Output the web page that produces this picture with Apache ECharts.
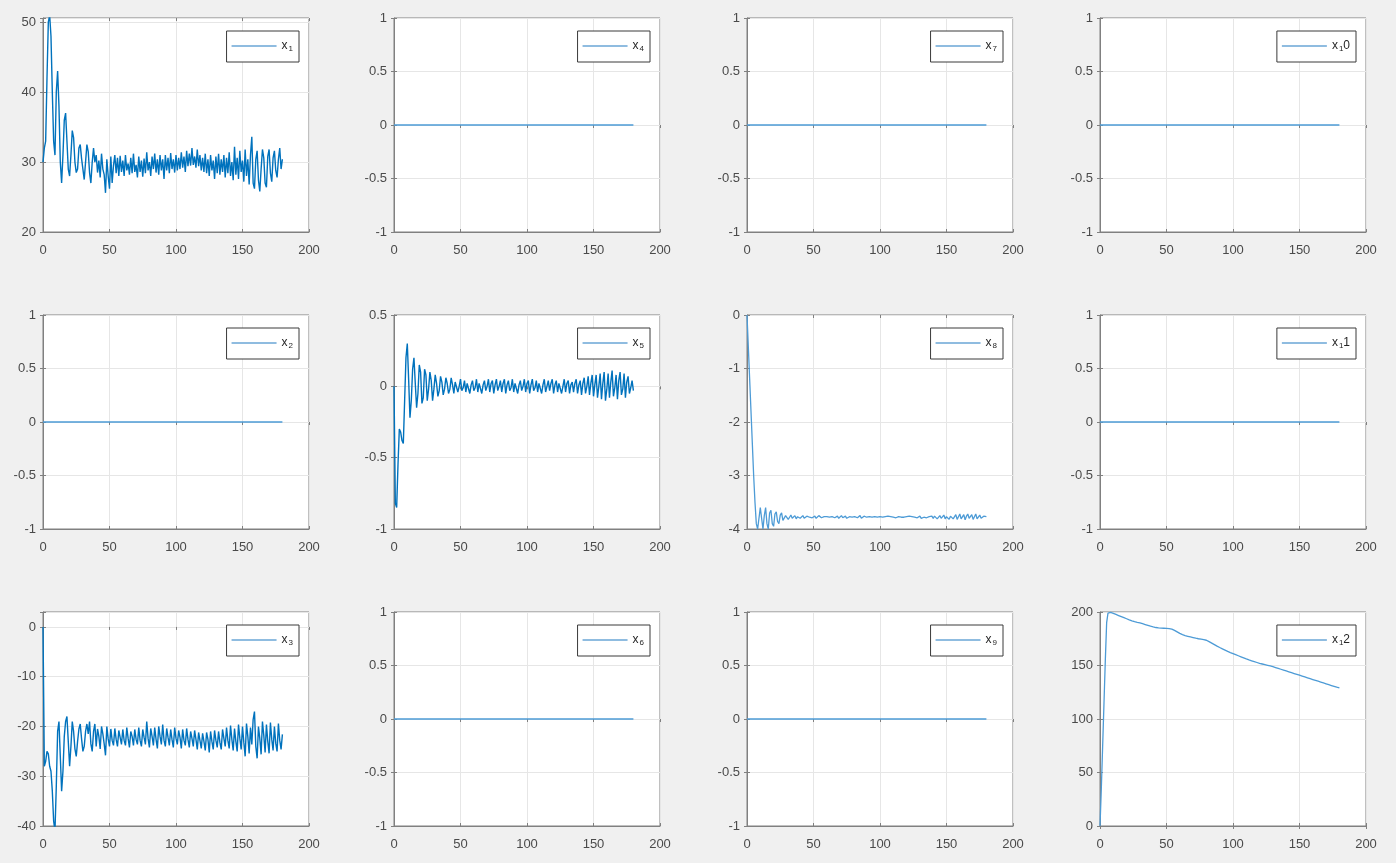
<!DOCTYPE html>
<html>
<head>
<meta charset="utf-8">
<script src="https://cdn.jsdelivr.net/npm/echarts@6/dist/echarts.min.js"></script>
<style>
html,body{margin:0;padding:0;background:#f0f0f0;}
#c{width:1396px;height:863px;}
</style>
</head>
<body>
<div id="c"></div>
<script>
// ---------- data ----------
// sample times (s) for the simulated trajectories
const tSim = Array.from({length: 181}, (_, i) => i);
// flat trajectories are constant zero from t=0 to t=180
const tFlat = [0, 180];
const zeroFlat = [0, 0];

const x1 = [
30,32,33,42,50,51,48,40,33,31,
40,43,38,30,27,31,36,37,33,29,
28,31,34.5,33.5,30,28.5,29,32,32.5,30.5,
29,27.5,30,32.5,31.5,28.5,27,30,32,30,
31,28.5,30.2,27.8,31.2,29.0,28.2,25.6,30.4,28.0,
26.2,30.8,27.0,29.5,31.0,28.4,30.6,28.0,30.9,28.6,
30.2,28.0,31.0,28.8,29.8,28.2,30.6,28.4,31.2,28.6,
29.6,27.8,30.8,28.6,30.2,27.9,30.5,28.4,31.4,28.8,
30.0,28.0,30.8,29.0,31.2,28.5,30.4,28.2,31.0,28.8,
30.4,27.6,31.0,28.8,30.6,28.4,31.3,29.0,30.4,28.5,
31.0,28.8,30.6,29.0,31.4,29.2,30.8,28.6,31.6,29.4,
31.2,29.5,32.0,29.6,30.8,29.2,31.8,29.4,31.0,28.8,
30.6,28.6,31.2,28.4,30.4,28.0,31.0,28.8,30.2,27.6,
30.8,28.4,31.2,28.2,30.4,28.6,31.0,27.8,30.6,28.4,
31.4,28.0,30.0,27.4,32.2,28.2,30.6,27.6,31.6,28.6,
30.2,27.2,31.8,28.0,30.4,26.8,31.0,33.6,27.0,26.2,
30.4,31.6,27.4,25.8,29.0,31.8,30.6,27.0,26.4,30.8,
31.8,28.4,27.2,30.6,31.6,28.8,27.8,30.4,32.0,29.0,
30.4
];

const x3 = [
0,-28,-27,-25,-25.5,-28,-29,-33,-39,-41,
-32,-21,-19,-26,-33,-29,-22,-19,-18,-23,
-28,-24,-19,-21,-24.5,-26,-23,-20.5,-19.5,-22.5,
-25,-24,-21,-19.5,-21.5,-19,-23.5,-25,-21,-19.5,
-24,-20.5,-22,-24.5,-20,-21.5,-23.5,-25.8,-20,-22.5,
-24,-20.5,-22.8,-23.8,-20.4,-22.6,-24,-20.8,-22.2,-23.6,
-20.6,-22.8,-23.8,-20.2,-22.4,-24.2,-21.0,-22.0,-23.8,-20.6,
-22.6,-23.6,-20.2,-22.8,-24.0,-20.6,-22.2,-23.6,-19.0,-22.4,
-24.2,-20.4,-22.0,-23.8,-20.2,-22.6,-24.4,-20.0,-22.0,-23.6,
-19.6,-22.8,-24.0,-20.4,-22.2,-23.8,-20.6,-22.6,-24.2,-20.2,
-22.4,-23.6,-20.8,-22.2,-24.4,-20.6,-22.8,-23.8,-20.4,-22.6,
-24.2,-21.0,-22.4,-24.0,-20.8,-22.6,-24.6,-21.2,-22.8,-24.4,
-21.4,-23.0,-24.8,-21.2,-22.6,-25.2,-21.0,-23.0,-24.6,-20.8,
-22.8,-24.2,-21.0,-23.2,-24.6,-20.6,-22.4,-24.0,-20.2,-22.8,
-24.4,-19.8,-22.6,-24.8,-20.4,-23.0,-25.0,-19.6,-22.4,-24.6,
-20.0,-23.2,-26.0,-19.4,-22.0,-25.4,-20.2,-23.6,-18.6,-17.0,
-24.0,-26.4,-20.0,-22.4,-25.6,-19.0,-21.8,-25.2,-19.6,-23.0,
-25.4,-19.2,-22.6,-24.8,-20.0,-23.4,-25.0,-19.4,-22.8,-24.6,
-21.6
];

const x5 = [
0,-0.82,-0.85,-0.55,-0.30,-0.32,-0.38,-0.40,-0.10,0.20,
0.30,0.05,-0.22,-0.10,0.12,0.20,0.02,-0.15,-0.05,0.15,
0.10,-0.12,-0.08,0.12,0.08,-0.10,-0.02,0.10,0.04,-0.10,
-0.02,0.08,0.02,-0.07,-0.03,0.07,0.03,-0.06,-0.02,0.06,
0.02,-0.05,-0.02,0.06,0.01,-0.05,0.03,0.04,-0.04,0.0,
0.05,-0.03,-0.01,0.04,-0.04,0.02,0.03,-0.05,0.01,0.04,
-0.03,-0.01,0.05,-0.04,0.02,0.03,-0.05,0.01,0.04,-0.03,
0.0,0.05,-0.04,0.02,0.04,-0.05,0.01,0.05,-0.03,0.0,
0.04,-0.04,0.02,0.05,-0.05,0.01,0.04,-0.03,-0.01,0.05,
-0.04,0.02,0.03,-0.05,0.01,0.04,-0.03,0.0,0.05,-0.04,
0.02,0.04,-0.05,0.01,0.05,-0.03,-0.01,0.04,-0.04,0.02,
0.03,-0.05,0.01,0.05,-0.04,0.0,0.04,-0.03,0.02,0.05,
-0.05,0.01,0.04,-0.04,0.02,0.03,-0.05,0.0,0.05,-0.04,
0.02,0.04,-0.05,0.01,0.03,-0.04,0.02,0.05,-0.05,0.01,
0.04,-0.06,0.02,0.06,-0.05,0.0,0.07,-0.06,0.02,0.08,
-0.07,0.01,0.08,-0.08,0.0,0.09,-0.09,0.02,0.10,-0.10,
-0.02,0.09,-0.08,0.03,0.11,-0.07,-0.01,0.08,-0.09,0.04,
0.10,-0.06,-0.02,0.09,-0.08,0.03,0.07,-0.05,-0.01,0.04,
-0.03
];

const x8 = [
0,-0.6,-1.2,-1.8,-2.4,-3.0,-3.5,-3.9,-4.0,-4.0,
-3.6,-3.8,-4.0,-3.75,-3.6,-3.9,-4.0,-3.7,-3.65,-3.9,
-3.95,-3.72,-3.68,-3.86,-3.9,-3.74,-3.7,-3.84,-3.85,-3.75,
-3.76,-3.82,-3.78,-3.74,-3.80,-3.79,-3.75,-3.81,-3.77,-3.76,
-3.80,-3.78,-3.75,-3.80,-3.77,-3.76,-3.79,-3.78,-3.75,-3.79,
-3.77,-3.76,-3.80,-3.77,-3.75,-3.78,-3.79,-3.76,-3.77,-3.78,
-3.77,-3.77,-3.78,-3.78,-3.77,-3.76,-3.79,-3.78,-3.76,-3.80,
-3.77,-3.75,-3.79,-3.78,-3.76,-3.80,-3.77,-3.77,-3.78,-3.78,
-3.77,-3.77,-3.78,-3.79,-3.76,-3.75,-3.80,-3.77,-3.76,-3.79,
-3.78,-3.77,-3.77,-3.78,-3.78,-3.77,-3.77,-3.78,-3.78,-3.77,
-3.77,-3.78,-3.78,-3.77,-3.77,-3.78,-3.76,-3.79,-3.77,-3.77,
-3.78,-3.76,-3.79,-3.78,-3.77,-3.77,-3.78,-3.77,-3.78,-3.77,
-3.77,-3.78,-3.76,-3.79,-3.77,-3.77,-3.78,-3.76,-3.79,-3.77,
-3.76,-3.80,-3.77,-3.78,-3.76,-3.79,-3.77,-3.77,-3.78,-3.76,
-3.80,-3.76,-3.74,-3.81,-3.78,-3.75,-3.80,-3.77,-3.74,-3.81,
-3.77,-3.74,-3.82,-3.76,-3.73,-3.81,-3.78,-3.73,-3.82,-3.77,
-3.72,-3.81,-3.79,-3.73,-3.83,-3.76,-3.72,-3.80,-3.79,-3.73,
-3.82,-3.77,-3.72,-3.81,-3.78,-3.74,-3.80,-3.77,-3.76,-3.79,
-3.77
];

const x12 = [
0,35,75,115,155,190,199,200,199.6,199.2,
198.7,198.2,197.7,197.2,196.7,196.2,195.7,195.2,194.7,194.2,
193.7,193.2,192.7,192.2,191.8,191.4,191.0,190.7,190.4,190.2,
189.9,189.5,189.1,188.7,188.3,187.9,187.5,187.1,186.7,186.3,
186.0,185.7,185.5,185.3,185.1,185.0,184.9,184.8,184.8,184.7,
184.7,184.6,184.5,184.3,184.0,183.4,182.8,182.1,181.4,180.7,
180.0,179.4,178.8,178.3,177.9,177.6,177.3,177.0,176.7,176.4,
176.1,175.8,175.5,175.2,175.0,174.8,174.6,174.4,174.2,174.0,
173.6,173.0,172.3,171.6,170.9,170.2,169.5,168.8,168.1,167.4,
166.8,166.2,165.6,165.0,164.4,163.8,163.2,162.6,162.1,161.6,
161.1,160.6,160.1,159.6,159.1,158.6,158.1,157.6,157.1,156.6,
156.1,155.6,155.2,154.8,154.4,154.0,153.6,153.2,152.8,152.4,
152.0,151.7,151.4,151.1,150.8,150.5,150.2,149.9,149.6,149.3,
148.9,148.5,148.1,147.7,147.3,146.9,146.5,146.1,145.7,145.3,
144.9,144.5,144.1,143.7,143.3,142.9,142.5,142.1,141.7,141.3,
140.9,140.5,140.1,139.7,139.3,138.9,138.5,138.1,137.7,137.3,
136.9,136.5,136.1,135.7,135.3,134.9,134.5,134.1,133.7,133.3,
132.9,132.5,132.1,131.7,131.3,130.9,130.5,130.1,129.7,129.4,
129.0
];

// legend labels (rich text: x with subscript, as in the figure)
const legendLabels = {
  x1:'{n|x}{s|1}', x2:'{n|x}{s|2}', x3:'{n|x}{s|3}',
  x4:'{n|x}{s|4}', x5:'{n|x}{s|5}', x6:'{n|x}{s|6}',
  x7:'{n|x}{s|7}', x8:'{n|x}{s|8}', x9:'{n|x}{s|9}',
  x10:'{n|x}{s|1}{n|0}', x11:'{n|x}{s|1}{n|1}', x12:'{n|x}{s|1}{n|2}'
};
const xTicks = {min: 0, max: 200, interval: 50};

// ---------- panels (column-major numbering as in the figure) ----------
const panels = [
  {name:'x1',  row:0, col:0, t:tSim,  y:x1,       ymin:20,  ymax:50.6, step:10},
  {name:'x2',  row:1, col:0, t:tFlat, y:zeroFlat, ymin:-1,  ymax:1,    step:0.5},
  {name:'x3',  row:2, col:0, t:tSim,  y:x3,       ymin:-40, ymax:3,    step:10},
  {name:'x4',  row:0, col:1, t:tFlat, y:zeroFlat, ymin:-1,  ymax:1,    step:0.5},
  {name:'x5',  row:1, col:1, t:tSim,  y:x5,       ymin:-1,  ymax:0.5,  step:0.5},
  {name:'x6',  row:2, col:1, t:tFlat, y:zeroFlat, ymin:-1,  ymax:1,    step:0.5},
  {name:'x7',  row:0, col:2, t:tFlat, y:zeroFlat, ymin:-1,  ymax:1,    step:0.5},
  {name:'x8',  row:1, col:2, t:tSim,  y:x8,       ymin:-4,  ymax:0,    step:1},
  {name:'x9',  row:2, col:2, t:tFlat, y:zeroFlat, ymin:-1,  ymax:1,    step:0.5},
  {name:'x10', row:0, col:3, t:tFlat, y:zeroFlat, ymin:-1,  ymax:1,    step:0.5},
  {name:'x11', row:1, col:3, t:tFlat, y:zeroFlat, ymin:-1,  ymax:1,    step:0.5},
  {name:'x12', row:2, col:3, t:tSim,  y:x12,      ymin:0,   ymax:200,  step:50}
];

// ---------- layout ----------
const W = 1396;
const colLeft = [43, 394, 747, 1100];
const rowTop = [18, 315, 612];
const gw = 266, gh = 214;
const lineColor = '#0072BD';
const lightLine = '#4d9bd6';
const axisColor = '#808080';
const labelColor = '#4a4a4a';
const gridColor = '#e6e6e6';
const font = 'Liberation Sans';

const grids = [], xAxes = [], yAxes = [], series = [], legends = [];
panels.forEach((p, i) => {
  const left = colLeft[p.col], top = rowTop[p.row];
  const noisy = p.t === tSim && p.name !== 'x12' && p.name !== 'x8';
  grids.push({left: left, top: top, width: gw, height: gh, show: true,
    backgroundColor: '#ffffff', borderColor: axisColor, borderWidth: 1});
  const st = p.step;
  // bottom / left axes with labels and grid
  xAxes.push({type: 'value', gridIndex: i, position: 'bottom', min: xTicks.min, max: xTicks.max, interval: xTicks.interval,
    axisLine: {show: true, onZero: false, lineStyle: {color: axisColor, width: 1}},
    axisTick: {show: true, inside: true, length: 3, lineStyle: {color: axisColor}},
    axisLabel: {color: labelColor, fontFamily: font, fontSize: 13, margin: 12},
    splitLine: {show: true, lineStyle: {color: gridColor, width: 1}}});
  yAxes.push({type: 'value', gridIndex: i, position: 'left', min: p.ymin, max: p.ymax, interval: st,
    axisLine: {show: true, onZero: false, lineStyle: {color: axisColor, width: 1}},
    axisTick: {show: true, inside: true, length: 3, lineStyle: {color: axisColor}},
    axisLabel: {color: labelColor, fontFamily: font, fontSize: 13, margin: 7,
      formatter: v => (Math.abs(v / st - Math.round(v / st)) < 1e-6 ? String(+v.toFixed(3)) : '')},
    splitLine: {show: true, lineStyle: {color: gridColor, width: 1}}});
  series.push({type: 'line', name: p.name, xAxisIndex: i, yAxisIndex: i,
    data: p.t.map((tt, k) => [tt, p.y[k]]),
    symbol: 'none', clip: true, animation: false,
    lineStyle: {color: noisy ? lineColor : lightLine, width: noisy ? 1.4 : 1.3},
    itemStyle: {color: lightLine}});
  legends.push({data: [p.name], right: W - (left + gw - 10), top: top + 13,
    orient: 'vertical', backgroundColor: '#ffffff', borderColor: '#3a3a3a', borderWidth: 1,
    borderRadius: 0, padding: [9, 6, 9, 5], itemWidth: 45, itemHeight: 1.5, icon: 'rect',
    itemStyle: {color: '#6aa6d6'},
    selectedMode: false,
    formatter: n => legendLabels[n],
    textStyle: {color: '#262626', fontFamily: font, fontSize: 12,
      rich: {n: {fontSize: 12, fontFamily: font, color: '#262626', lineHeight: 14},
             s: {fontSize: 8, fontFamily: font, color: '#262626', lineHeight: 8, verticalAlign: 'bottom', padding: [0, 0, 0, 1]}}}});
});
// top / right tick-only axes (box ticks)
panels.forEach((p, i) => {
  xAxes.push({type: 'value', gridIndex: i, position: 'top', min: xTicks.min, max: xTicks.max, interval: xTicks.interval,
    axisLine: {show: false}, axisLabel: {show: false}, splitLine: {show: false},
    axisTick: {show: true, inside: true, length: 3, lineStyle: {color: axisColor}}});
  yAxes.push({type: 'value', gridIndex: i, position: 'right', min: p.ymin, max: p.ymax, interval: p.step,
    axisLine: {show: false}, axisLabel: {show: false}, splitLine: {show: false},
    axisTick: {show: true, inside: true, length: 3, lineStyle: {color: axisColor}}});
});

const chart = echarts.init(document.getElementById('c'), null, {renderer: 'canvas'});
chart.setOption({
  backgroundColor: '#f0f0f0',
  animation: false,
  grid: grids, xAxis: xAxes, yAxis: yAxes, series: series, legend: legends
});
</script>
</body>
</html>
